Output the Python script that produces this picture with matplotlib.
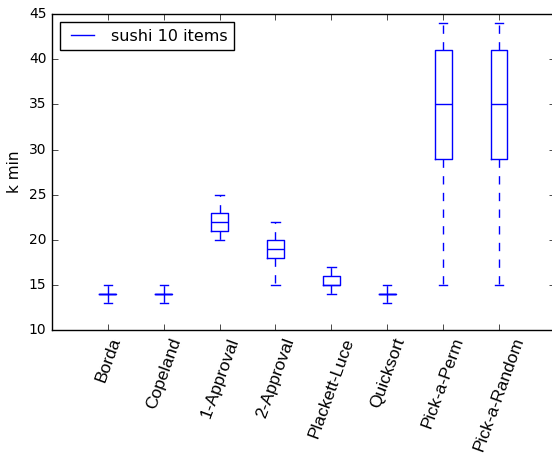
import matplotlib
matplotlib.use('Agg')
import matplotlib.pyplot as plt
from matplotlib.lines import Line2D

# --- Data ---
methods = ['Borda', 'Copeland', '1-Approval', '2-Approval', 'Plackett-Luce',
           'Quicksort', 'Pick-a-Perm', 'Pick-a-Random']
whislo = [13, 13, 20, 15, 14, 13, 15, 15]
q1 = [14, 14, 21, 18, 15, 14, 29, 29]
med = [14, 14, 22, 19, 15, 14, 35, 35]
q3 = [14, 14, 23, 20, 16, 14, 41, 41]
whishi = [15, 15, 25, 22, 17, 15, 44, 44]

stats = []
for name, lo, a, m, b, hi in zip(methods, whislo, q1, med, q3, whishi):
    stats.append({'label': name, 'whislo': lo, 'q1': a, 'med': m,
                  'q3': b, 'whishi': hi, 'fliers': []})

plt.style.use('classic')
fig = plt.figure(figsize=(5.52, 4.57), dpi=100)
# axes run slightly past the right edge, like the cropped original
ax = fig.add_axes([0.0942, 0.278, 0.911, 0.691])

blue = 'b'
ax.bxp(stats, widths=0.3, showfliers=False,
       boxprops=dict(color=blue),
       whiskerprops=dict(color=blue, linestyle='--'),
       capprops=dict(color=blue),
       medianprops=dict(color=blue))

ax.set_xlim(0, 9)
ax.set_ylim(10, 45)
ax.set_ylabel('k min', fontsize=11)
ax.tick_params(axis='y', labelsize=10)
ax.set_xticklabels(methods, rotation=70, fontsize=12.5, family='Liberation Sans')

proxy = Line2D([], [], color=blue)
ax.legend([proxy], ['sushi 10 items'], loc='upper left', fontsize=11.5)

fig.savefig('out.png', dpi=100)
